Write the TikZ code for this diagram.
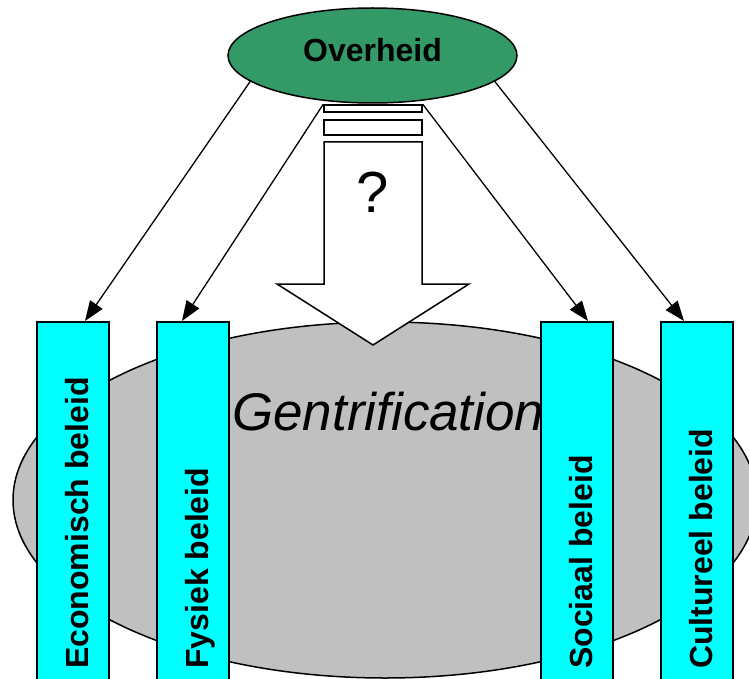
\documentclass[tikz,border=0pt]{standalone}
\usepackage{fontspec}
\setmainfont{Liberation Sans}
\usetikzlibrary{shapes.geometric,arrows.meta}
\definecolor{govgreen}{HTML}{339966}
\definecolor{citygrey}{HTML}{C0C0C0}
\definecolor{policycyan}{HTML}{00FFFF}

\begin{document}
\begin{tikzpicture}[x=1pt,y=-1pt,
  outline/.style={draw=black,line width=1.5pt},
  policybar/.style={outline,fill=policycyan,minimum width=72pt,minimum height=369pt,inner sep=0pt,anchor=north},
  bartext/.style={rotate=90,anchor=base west,inner sep=0pt,font=\bfseries\fontsize{32}{36}\selectfont},
  stripe/.style={outline,fill=white,minimum width=98pt,inner sep=0pt},
  link/.style={draw=black,line width=1.3pt,-{Triangle[length=20pt,width=15pt]}},
]
\useasboundingbox (0,0) rectangle (749,679);
\clip (0,0) rectangle (749,679);

% the city being gentrified
\node[ellipse,outline,fill=citygrey,minimum width=744pt,minimum height=356pt,inner sep=0pt] (city) at (385,500) {};
\node[anchor=base west,inner sep=0pt,font=\itshape\fontsize{53}{60}\selectfont] (gent) at (232,430) {Gentrification};

% four policy fields
\node[policybar] (eco) at (73,321) {};
\node[policybar] (fys) at (193,321) {};
\node[policybar] (soc) at (577,321) {};
\node[policybar] (cul) at (697,321) {};
\node[bartext] (ecot) at (88,669) {Economisch beleid};
\node[bartext] (fyst) at (208,669) {Fysiek beleid};
\node[bartext] (soct) at (592,669) {Sociaal beleid};
\node[bartext] (cult) at (712,669) {Cultureel beleid};

% hollow striped arrow from government to the city
\node[stripe,minimum height=7pt] (s1) at (373,108.5) {};
\node[stripe,minimum height=15pt] (s2) at (373,127.5) {};
\draw[outline,fill=white,line join=miter]
  (324,142) -- (422,142) -- (422,284) -- (469,284) -- (373,345) -- (277,284) -- (324,284) -- cycle;
\node[anchor=base,inner sep=0pt,font=\fontsize{58}{64}\selectfont] (q) at (373,212) {?};

% government
\node[ellipse,outline,fill=govgreen,minimum width=289pt,minimum height=95pt,inner sep=0pt,
      text height=23pt,text depth=10pt,font=\bfseries\fontsize{32}{36}\selectfont] (ov) at (372.5,55.5) {Overheid};

% government steers each policy field
\draw[link] (ov.192) -- ([xshift=12pt]eco.north);
\draw[link] (s1.north west) -- ([xshift=-11pt]fys.north);
\draw[link] (s1.north east) -- ([xshift=11pt]soc.north);
\draw[link] (ov.-12) -- ([xshift=-13pt]cul.north);
\end{tikzpicture}
\end{document}
